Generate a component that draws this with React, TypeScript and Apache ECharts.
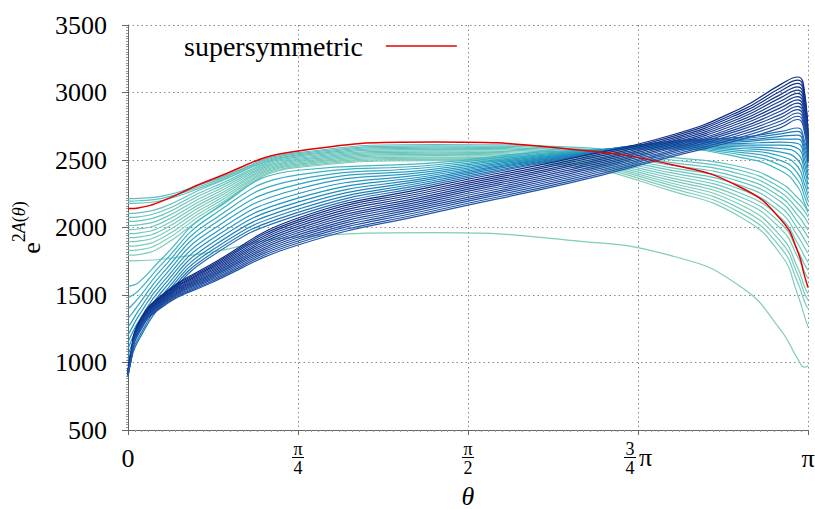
import React, { useEffect, useRef } from "react";
import * as echarts from "echarts";

// θ sample positions, in units of π
const THETA_OVER_PI = [0, 0.004, 0.015, 0.05, 0.12, 0.25, 0.45, 0.65, 0.8, 0.9, 0.96, 0.985, 0.995, 1];

// supersymmetric solution (red)
const SUSY = [2140, 2140, 2145, 2195, 2350, 2567, 2634, 2580, 2465, 2300, 2060, 1820, 1640, 1556];

// lowest light curve
const LOWEST = [1753, 1753, 1755, 1765, 1815, 1930, 1962, 1905, 1790, 1565, 1240, 1025, 965, 975];

// light teal family
const TEAL = [
  [1795, 1795, 1799, 1860, 2107, 2445, 2495, 2450, 2270, 2080, 1800, 1500, 1340, 1264],
  [1830, 1830, 1834, 1892, 2129, 2453, 2504, 2462, 2290, 2110, 1850, 1590, 1450, 1400],
  [1862, 1862, 1866, 1922, 2150, 2462, 2513, 2473, 2310, 2140, 1895, 1650, 1510, 1462],
  [1895, 1895, 1899, 1952, 2171, 2470, 2522, 2484, 2328, 2170, 1935, 1700, 1560, 1510],
  [1925, 1925, 1929, 1980, 2191, 2479, 2532, 2495, 2347, 2200, 1990, 1780, 1670, 1624],
  [1955, 1955, 1959, 2008, 2210, 2487, 2541, 2506, 2366, 2228, 2030, 1830, 1725, 1684],
  [1985, 1985, 1989, 2036, 2230, 2496, 2550, 2517, 2385, 2256, 2070, 1880, 1785, 1743],
  [2015, 2015, 2019, 2064, 2250, 2504, 2559, 2528, 2404, 2284, 2110, 1935, 1850, 1809],
  [2045, 2045, 2049, 2092, 2270, 2513, 2568, 2539, 2423, 2312, 2150, 1990, 1910, 1868],
  [2075, 2075, 2079, 2120, 2289, 2521, 2578, 2550, 2442, 2340, 2190, 2040, 1970, 1928],
  [2105, 2105, 2109, 2147, 2309, 2530, 2587, 2562, 2461, 2368, 2225, 2090, 2020, 1980],
  [2178, 2178, 2180, 2200, 2318, 2538, 2596, 2573, 2480, 2396, 2260, 2135, 2075, 2031],
  [2196, 2196, 2198, 2216, 2330, 2547, 2605, 2584, 2500, 2424, 2295, 2180, 2120, 2077],
  [2214, 2214, 2216, 2232, 2342, 2555, 2615, 2595, 2520, 2450, 2330, 2220, 2160, 2110],
];

// cyan to blue family
const CYAN = [
  [1565, 1568, 1590, 1770, 2110, 2424, 2478, 2570, 2580, 2520, 2420, 2300, 2180, 2120],
  [1480, 1490, 1530, 1730, 2075, 2390, 2463, 2565, 2585, 2540, 2460, 2350, 2230, 2160],
  [1400, 1415, 1475, 1693, 2040, 2355, 2448, 2560, 2591, 2557, 2495, 2400, 2275, 2200],
  [1330, 1350, 1425, 1657, 2005, 2320, 2433, 2555, 2596, 2572, 2528, 2450, 2320, 2240],
  [1265, 1290, 1380, 1622, 1970, 2285, 2418, 2550, 2602, 2585, 2558, 2500, 2370, 2280],
  [1205, 1240, 1340, 1588, 1935, 2250, 2403, 2545, 2607, 2598, 2585, 2545, 2420, 2320],
  [1150, 1195, 1300, 1556, 1903, 2218, 2389, 2540, 2613, 2610, 2610, 2585, 2465, 2360],
  [1100, 1150, 1265, 1526, 1873, 2188, 2375, 2535, 2618, 2622, 2633, 2622, 2505, 2400],
  [1055, 1110, 1235, 1498, 1845, 2160, 2362, 2530, 2624, 2634, 2655, 2655, 2545, 2440],
  [1015, 1075, 1205, 1472, 1820, 2135, 2348, 2525, 2629, 2645, 2675, 2685, 2580, 2475],
  [980, 1045, 1180, 1449, 1797, 2112, 2334, 2520, 2635, 2656, 2694, 2712, 2610, 2505],
  [950, 1020, 1160, 1428, 1777, 2092, 2320, 2515, 2640, 2667, 2712, 2737, 2640, 2535],
];

// navy family (top of the band first)
const NAVY = [
  [940, 1065, 1290, 1500, 1720, 2070, 2304, 2510, 2685, 2880, 3060, 3115, 3000, 2650],
  [936, 1060, 1284, 1493, 1710, 2055, 2289, 2496, 2673, 2862, 3035, 3091, 2977, 2637],
  [933, 1055, 1278, 1486, 1699, 2040, 2274, 2482, 2660, 2845, 3011, 3067, 2954, 2624],
  [929, 1050, 1273, 1479, 1689, 2024, 2259, 2468, 2648, 2827, 2986, 3042, 2931, 2611],
  [926, 1045, 1267, 1472, 1678, 2008, 2244, 2455, 2636, 2809, 2962, 3018, 2908, 2598],
  [922, 1040, 1261, 1465, 1668, 1992, 2229, 2441, 2623, 2792, 2937, 2994, 2885, 2585],
  [919, 1035, 1255, 1458, 1658, 1976, 2214, 2427, 2611, 2774, 2912, 2970, 2862, 2572],
  [916, 1030, 1250, 1452, 1647, 1961, 2199, 2413, 2599, 2756, 2888, 2945, 2838, 2558],
  [912, 1025, 1244, 1445, 1637, 1945, 2184, 2399, 2587, 2738, 2863, 2921, 2815, 2545],
  [909, 1020, 1238, 1438, 1627, 1930, 2169, 2385, 2574, 2721, 2838, 2897, 2792, 2532],
  [905, 1015, 1232, 1431, 1616, 1915, 2154, 2372, 2562, 2703, 2814, 2873, 2769, 2519],
  [902, 1010, 1227, 1424, 1606, 1900, 2139, 2358, 2550, 2685, 2789, 2848, 2746, 2506],
  [898, 1005, 1221, 1417, 1595, 1885, 2124, 2344, 2537, 2668, 2765, 2824, 2723, 2493],
  [895, 1000, 1215, 1410, 1585, 1870, 2110, 2330, 2525, 2650, 2740, 2800, 2700, 2480],
];

const LOWEST_COLOR = "#7fcdbb";
const SUSY_COLOR = "#e60000";
const TEAL_COLORS = ["#7fcdbb", "#7dccbb", "#7acbbc", "#78cabc", "#75c9bc", "#72c8bd", "#70c7bd", "#6dc6bd", "#6ac5be", "#68c4be", "#65c3be", "#62c2bf", "#60c1bf", "#5fc0c0"];
const CYAN_COLORS = ["#41b6c4", "#3bb0c3", "#35a9c2", "#2fa3c2", "#299dc1", "#2397c1", "#1d91c0", "#1e8bbe", "#1e85bc", "#1f7eb9", "#2078b7", "#2171b5"];
const NAVY_COLORS = ["#0c2c84", "#0f2f87", "#11328a", "#13358c", "#15388f", "#163b92", "#183e94", "#194197", "#1b449a", "#1c479c", "#1e4a9f", "#1f4ea2", "#2152a4", "#2256a6"];

// x ticks (units of π): numerator / denominator / trailing factor of each label
const X_TICKS = [0, 0.25, 0.5, 0.75, 1];
const X_TICK_NUM = ["0", "π", "π", "3", "π"];
const X_TICK_DEN = ["", "4", "2", "4", ""];
const X_TICK_TAIL = ["", "", "", "π", ""];
const Y_MIN = 500;
const Y_MAX = 3500;
const Y_STEP = 500;

const SERIF = "Liberation Serif";
const LABEL_MARGIN = 9;
const FRAC_LINE = 19;

export default function App() {
  const ref = useRef<HTMLDivElement>(null);
  useEffect(() => {
    if (!ref.current) return;
    const chart = echarts.init(ref.current, null, { renderer: "svg" });
    const mk = (name: string, vals: number[], color: string, width: number, z: number) => ({
      name,
      type: "line",
      data: THETA_OVER_PI.map((t, i) => [t, vals[i]]),
      smooth: 0.5,
      symbol: "none",
      showSymbol: false,
      lineStyle: { color, width },
      itemStyle: { color },
      z,
      silent: true,
      emphasis: { disabled: true },
    });
    const series = [
      mk("lowest", LOWEST, LOWEST_COLOR, 1.2, 2),
      ...TEAL.map((v, i) => mk(`teal${i}`, v, TEAL_COLORS[i], 1.2, 2)),
      ...CYAN.map((v, i) => mk(`cyan${i}`, v, CYAN_COLORS[i], 1.2, 3)),
      ...NAVY.map((v, i) => mk(`navy${i}`, v, NAVY_COLORS[i], 1.2, 4)),
      mk("supersymmetric", SUSY, SUSY_COLOR, 1.5, 5),
    ];
    const tickIndex = (v: number) => X_TICKS.findIndex((t) => Math.abs(t - v) < 1e-6);
    const xLabel = (v: number) => {
      const i = tickIndex(v);
      if (i < 0) return "";
      if (!X_TICK_DEN[i]) return `{big|${X_TICK_NUM[i]}}`;
      if (X_TICK_TAIL[i]) return `{numS|${X_TICK_NUM[i]}}\n{denS|${X_TICK_DEN[i]}}`;
      return `{num|${X_TICK_NUM[i]}}\n{den|${X_TICK_DEN[i]}}`;
    };
    chart.setOption({
      animation: false,
      backgroundColor: "#ffffff",
      textStyle: { fontFamily: SERIF },
      grid: { left: 128, right: 7, top: 25, bottom: 79, containLabel: false, outerBoundsMode: "none" },
      legend: {
        data: [{ name: "supersymmetric", icon: "rect" }],
        left: 184,
        top: 32,
        padding: 0,
        align: "right",
        itemWidth: 71,
        itemHeight: 1.5,
        selectedMode: false,
        textStyle: { fontFamily: SERIF, fontSize: 28, color: "#000", padding: [0, 18, 0, 0] },
      },
      xAxis: {
        type: "value",
        min: 0,
        max: 1,
        interval: 0.25,
        name: "θ",
        nameLocation: "middle",
        nameGap: 54,
        nameTextStyle: { fontFamily: SERIF, fontSize: 26, lineHeight: 24, fontStyle: "italic", color: "#000" },
        axisLine: { show: true, lineStyle: { color: "#666", width: 1 } },
        axisTick: { show: true, length: 5, lineStyle: { color: "#666" } },
        minorTick: { show: true, splitNumber: 25, length: 2, lineStyle: { color: "#999" } },
        splitLine: { show: true, lineStyle: { color: "#888", type: [1.5, 3], width: 1 } },
        axisLabel: {
          showMinLabel: true,
          showMaxLabel: true,
          margin: LABEL_MARGIN,
          color: "#000",
          formatter: xLabel,
          rich: {
            num: { fontFamily: SERIF, fontSize: 18, lineHeight: FRAC_LINE, color: "#000" },
            den: { fontFamily: SERIF, fontSize: 18, lineHeight: FRAC_LINE, color: "#000" },
            numS: { fontFamily: SERIF, fontSize: 18, lineHeight: FRAC_LINE, color: "#000", padding: [0, 16, 0, 0] },
            denS: { fontFamily: SERIF, fontSize: 18, lineHeight: FRAC_LINE, color: "#000", padding: [0, 16, 0, 0] },
            big: { fontFamily: SERIF, fontSize: 26, lineHeight: FRAC_LINE * 2, color: "#000" },
          },
        },
      },
      yAxis: {
        type: "value",
        min: Y_MIN,
        max: Y_MAX,
        interval: Y_STEP,
        name: "{e|e}{s|2}{i|A}{s|(}{i|θ}{s|)}",
        nameLocation: "middle",
        nameRotate: 90,
        nameGap: 80,
        nameTextStyle: {
          rich: {
            e: { fontFamily: SERIF, fontSize: 26, lineHeight: 34, verticalAlign: "bottom", color: "#000" },
            s: { fontFamily: SERIF, fontSize: 18, lineHeight: 20, verticalAlign: "top", color: "#000" },
            i: { fontFamily: SERIF, fontSize: 18, lineHeight: 20, verticalAlign: "top", fontStyle: "italic", color: "#000" },
          },
        },
        axisLine: { show: true, lineStyle: { color: "#666", width: 1 } },
        axisTick: { show: true, length: 6, lineStyle: { color: "#666" } },
        minorTick: { show: true, splitNumber: 25, length: 2, lineStyle: { color: "#999" } },
        splitLine: { show: true, lineStyle: { color: "#888", type: [1.5, 3], width: 1 } },
        axisLabel: {
          margin: 21,
          fontFamily: SERIF,
          fontSize: 26,
          color: "#000",
          formatter: (v: number) => String(v),
        },
      },
      series,
    });

    // fraction bars and the trailing π of the 3/4 label, placed from the axis scale
    const y0 = chart.convertToPixel({ yAxisIndex: 0 }, Y_MIN) as number;
    const barY = Math.round(y0 + LABEL_MARGIN + FRAC_LINE);
    const graphic: any[] = [];
    X_TICKS.forEach((t, i) => {
      if (!X_TICK_DEN[i]) return;
      const cx = chart.convertToPixel({ xAxisIndex: 0 }, t) as number;
      const shift = X_TICK_TAIL[i] ? -8 : 0;
      graphic.push({
        type: "rect",
        silent: true,
        z: 100,
        shape: { x: Math.round(cx + shift - 6), y: barY - 1, width: 12, height: 1 },
        style: { fill: "#000" },
      });
      if (X_TICK_TAIL[i]) {
        graphic.push({
          type: "text",
          silent: true,
          z: 100,
          x: cx + 1,
          y: barY - 1,
          style: {
            text: X_TICK_TAIL[i],
            font: `26px '${SERIF}'`,
            fill: "#000",
            align: "left",
            verticalAlign: "middle",
          },
        });
      }
    });
    chart.setOption({ graphic });
    return () => chart.dispose();
  }, []);
  return (
    <div
      ref={ref}
      style={{ position: "fixed", left: 0, top: 0, width: 815, height: 509, background: "#fff" }}
    />
  );
}
